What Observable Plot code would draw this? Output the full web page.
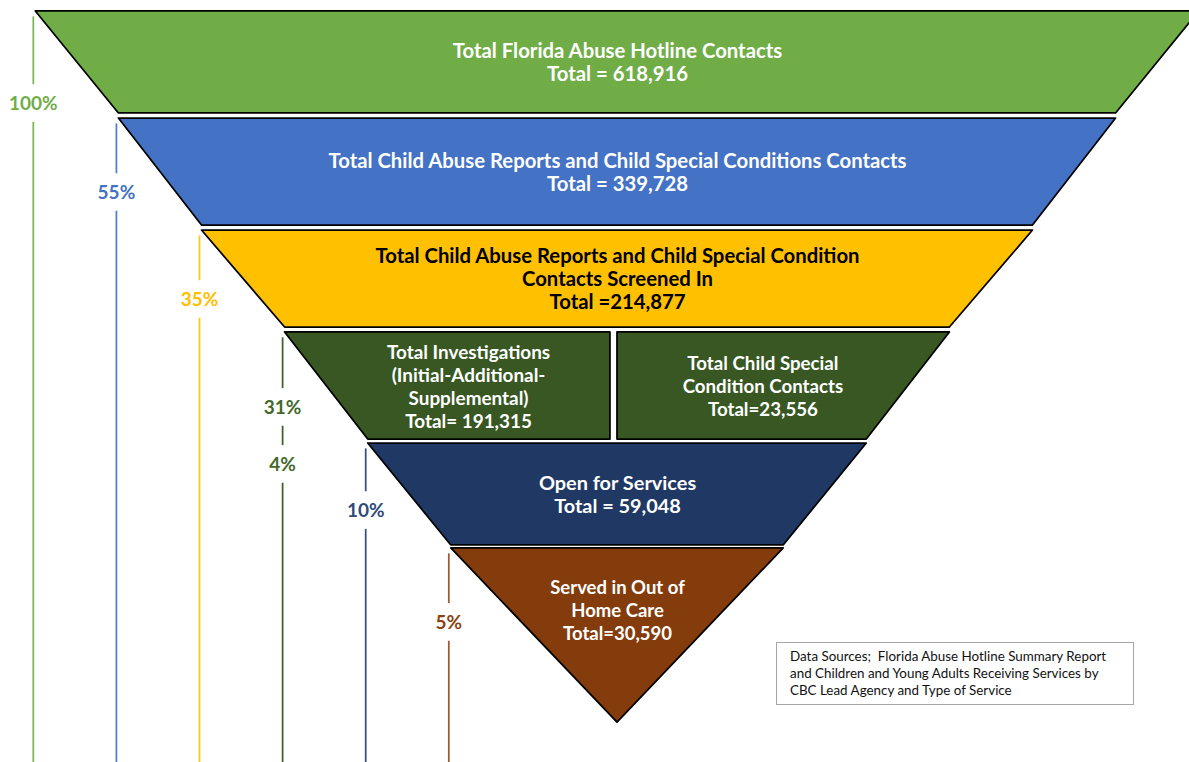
<!DOCTYPE html>
<html><head><meta charset="utf-8">
<script src="https://cdn.jsdelivr.net/npm/d3@7"></script>
<script src="https://cdn.jsdelivr.net/npm/@observablehq/plot@0.6"></script>
<style>
html,body{margin:0;padding:0;background:#fff;overflow:hidden}
#wrap{position:relative;width:1189px;height:762px}
#wrap svg{display:block}
#note{position:absolute;left:776px;top:642px;width:358px;height:63px;box-sizing:border-box;border:1.5px solid #a6a6a6;padding:5px 0 0 13px;font:13.4px Lato, sans-serif;line-height:17px;color:#111;white-space:pre;background:#fff}
</style></head><body><div id="wrap"><div id="note"></div></div>
<script>
// ---------- data ----------
const stageNames = [
  "Total Florida Abuse Hotline Contacts",
  "Total Child Abuse Reports and Child Special Conditions Contacts",
  "Total Child Abuse Reports and Child Special Condition\nContacts Screened In",
  "Total Investigations\n(Initial-Additional-\nSupplemental)",
  "Total Child Special\nCondition Contacts",
  "Open for Services",
  "Served in Out of\nHome Care"
];
const stageTotals = [618916, 339728, 214877, 191315, 23556, 59048, 30590];
const totalPrefixes = ["Total = ", "Total = ", "Total =", "Total= ", "Total=", "Total = ", "Total="];
const stageLevels = [0, 1, 2, 3, 3, 4, 5];
const stageSides = ["full", "full", "full", "left", "right", "full", "full"];
const noteLines = [
  "Data Sources;  Florida Abuse Hotline Summary Report",
  "and Children and Young Adults Receiving Services by",
  "CBC Lead Agency and Type of Service"
];

// ---------- styles / layout ----------
const stageColors = ["#70AD47", "#4472C4", "#FFC000", "#385723", "#385723", "#203864", "#843C0C"];
const textColors = ["#fff", "#fff", "#000", "#fff", "#fff", "#fff", "#fff"];
const textSizes = [20.3, 20.3, 20.3, 18.9, 18.7, 19.9, 18.5];
const percentColors = ["#70AD47", "#4472C4", "#FFC000", "#43682B", "#43682B", "#2F4A7A", "#8B4513"];
const lineColors = ["#7CB653", "#4F7FD0", "#FFC61A", "#3E5F2A", "#3E5F2A", "#34507F", "#A0582F"];
const percentOffsets = [0.857, 0.689, 0.642, 0.698, 1.229, 0.624, 0.689];
const levelTops = [0.102, 1.099, 2.142, 3.091, 4.125, 5.102];
const levelBottoms = [1.052, 2.095, 3.045, 4.088, 5.074, 6.723];

const W = 1189, H = 762, CX = 617, UX = 83.1, UY = 107.4;
const halfTop = l => 7 - l;
const halfBottom = l => l < 5 ? 6 - l : 0;
const textFrac = l => l < 5 ? 0.5 : 0.35;
const splitLeft = -0.085, splitRight = 0;

function partEdges(side, half) {
  if (side === "left") return [-half, splitLeft];
  if (side === "right") return [splitRight, half];
  return [-half, half];
}

const areaRows = [];
const textRows = [];
const pctRows = [];
stageNames.forEach((name, i) => {
  const l = stageLevels[i];
  const t = levelTops[l], b = levelBottoms[l], h = b - t;
  const [a1, a2] = partEdges(stageSides[i], halfTop(l));
  const [b1, b2] = partEdges(stageSides[i], halfBottom(l));
  areaRows.push({stage: i, y: t, x1: a1, x2: a2});
  areaRows.push({stage: i, y: b, x1: b1, x2: b2});
  const f = textFrac(l);
  const hm = halfTop(l) + (halfBottom(l) - halfTop(l)) * f;
  const [m1, m2] = partEdges(stageSides[i], hm);
  textRows.push({
    stage: i, x: (m1 + m2) / 2, y: t + f * h,
    text: name + "\n" + totalPrefixes[i] + d3.format(",")(stageTotals[i])
  });
  pctRows.push({
    stage: i, level: l, x: -halfTop(l) - 0.03, y: t + percentOffsets[i],
    text: Math.round(stageTotals[i] / stageTotals[0] * 100) + "%"
  });
});

// vertical guide segments broken around the percentage labels
const ruleRows = [];
const gap = 0.175;
d3.groups(pctRows, d => d.level).forEach(([l, rows]) => {
  rows.sort((a, b) => a.y - b.y);
  let start = levelTops[l] + 0.05;
  rows.forEach(r => {
    ruleRows.push({stage: rows[0].stage, x: r.x, y1: start, y2: r.y - gap});
    start = r.y + gap;
  });
  ruleRows.push({stage: rows[0].stage, x: rows[0].x, y1: start, y2: H / UY});
});

const chart = Plot.plot({
  width: W, height: H, margin: 0,
  x: {domain: [-CX / UX, (W - CX) / UX], axis: null},
  y: {domain: [0, H / UY], reverse: true, axis: null},
  color: {type: "identity"},
  style: {background: "white", fontFamily: "Lato, sans-serif"},
  marks: [
    Plot.ruleX(ruleRows, {x: "x", y1: "y1", y2: "y2", stroke: d => lineColors[d.stage], strokeWidth: 1.75}),
    Plot.areaX(areaRows, {y: "y", x1: "x1", x2: "x2", z: "stage", fill: d => stageColors[d.stage],
      stroke: "#000", strokeWidth: 1.75, curve: "linear", clip: true}),
    ...stageNames.map((_, i) => Plot.text(textRows.filter(d => d.stage === i), {
      x: "x", y: "y", text: "text", fill: textColors[i],
      fontSize: textSizes[i], fontWeight: "bold", fontFamily: "Lato, sans-serif",
      lineHeight: 23 / textSizes[i]
    })),
    Plot.text(pctRows, {x: "x", y: "y", text: "text", fill: d => percentColors[d.stage],
      fontSize: 19, fontWeight: "bold", fontFamily: "Lato, sans-serif"})
  ]
});
document.getElementById("wrap").prepend(chart);
document.getElementById("note").textContent = noteLines.join("\n");
</script>
</body></html>
